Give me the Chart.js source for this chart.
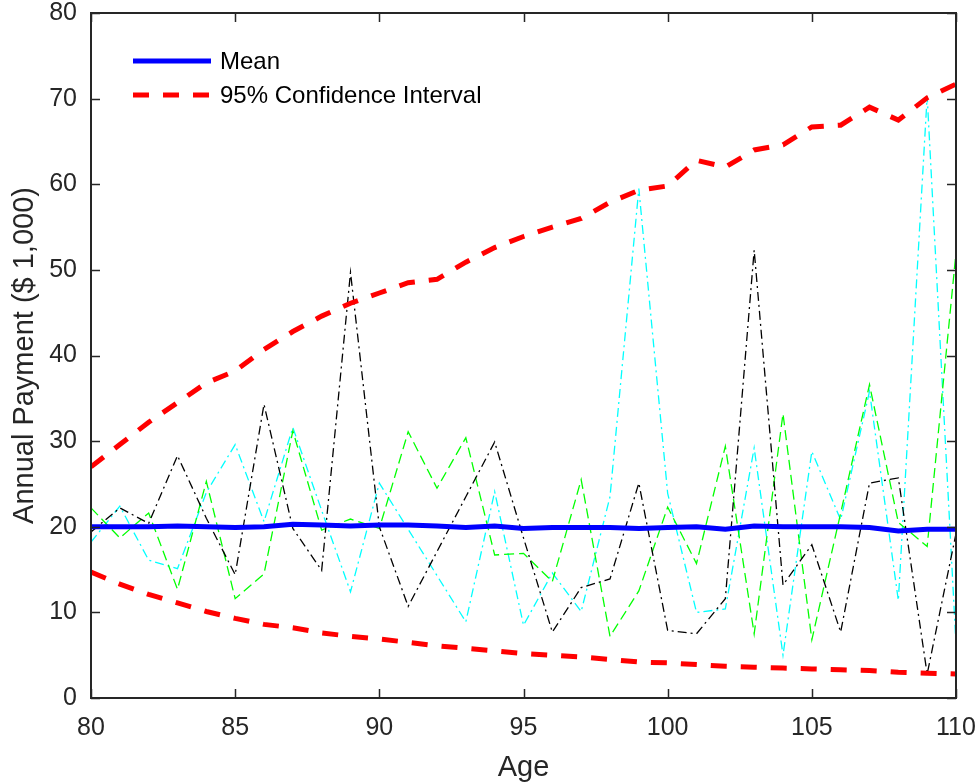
<!DOCTYPE html>
<html>
<head>
<meta charset="utf-8">
<script src="https://cdn.jsdelivr.net/npm/chart.js@4.4.1/dist/chart.umd.min.js"></script>
<style>
  body { margin: 0; background: #fff; }
  canvas { display: block; }
</style>
</head>
<body>
<canvas id="myChart" width="979" height="782"></canvas>
<script>
const ages = [80, 81, 82, 83, 84, 85, 86, 87, 88, 89, 90, 91, 92, 93, 94, 95,
  96, 97, 98, 99, 100, 101, 102, 103, 104, 105, 106, 107, 108, 109, 110];

const meanPay = [20.0, 20.0, 20.0, 20.1, 20.0, 19.9, 20.0, 20.3, 20.2, 20.1, 20.2,
  20.2, 20.1, 19.9, 20.1, 19.8, 19.9, 19.9, 19.9, 19.8, 19.9,
  20.0, 19.7, 20.1, 20.0, 20.0, 20.0, 19.9, 19.5, 19.7, 19.7];

const upperCI = [27.0, 29.6, 32.2, 34.5, 36.8, 38.2, 40.7, 42.8, 44.6, 46.1, 47.3,
  48.5, 48.9, 50.9, 52.6, 53.9, 55.0, 56.0, 57.9, 59.3, 59.8,
  62.8, 62.0, 64.0, 64.6, 66.7, 66.9, 69.0, 67.5, 70.1, 71.7];

const lowerCI = [14.7, 13.3, 12.1, 11.1, 10.1, 9.3, 8.6, 8.2, 7.6, 7.2, 6.9,
  6.5, 6.1, 5.8, 5.5, 5.2, 5.0, 4.8, 4.5, 4.2, 4.1,
  3.9, 3.7, 3.6, 3.5, 3.4, 3.3, 3.2, 3.0, 2.9, 2.8];

// three sample paths
const pathBlack = [19.4, 22.2, 20.4, 28.3, 21.0, 14.4, 34.3, 19.8, 14.9, 49.7, 20.0,
  10.7, 17.1, 23.5, 29.9, 18.7, 7.7, 12.9, 13.9, 25.1, 7.9,
  7.5, 11.6, 52.3, 13.2, 17.9, 7.7, 25.1, 25.7, 2.8, 19.2];

const pathGreen = [22.2, 18.7, 21.6, 12.7, 25.3, 11.6, 14.5, 31.2, 19.6, 20.9, 19.8,
  31.1, 24.5, 30.4, 16.7, 16.9, 13.6, 25.5, 7.2, 12.5, 22.3,
  15.7, 29.4, 7.5, 33.2, 6.8, 21.6, 36.6, 20.5, 17.7, 52.0];

const pathCyan = [18.2, 22.4, 16.1, 15.1, 24.0, 29.6, 20.6, 31.6, 21.9, 12.4, 25.1,
  19.7, 14.3, 8.9, 24.1, 8.5, 14.6, 10.1, 23.5, 59.5, 23.9,
  10.0, 10.4, 29.2, 5.0, 28.8, 20.8, 35.8, 11.4, 70.3, 6.3];

const xTicks = [80, 85, 90, 95, 100, 105, 110];
const yTicks = [0, 10, 20, 30, 40, 50, 60, 70, 80];

const FONT = "'Liberation Sans', Arial, Helvetica, sans-serif";
const AXIS = '#262626';

function pts(vals) {
  return ages.map((a, i) => ({ x: a, y: vals[i] }));
}

// box, inward ticks and the legend in the top left corner
const frame = {
  id: 'frame',
  afterDraw(chart) {
    const { ctx, chartArea: a, scales: { x, y } } = chart;
    ctx.save();
    ctx.strokeStyle = AXIS;
    ctx.lineWidth = 1.5;
    ctx.beginPath();
    x.ticks.forEach(t => {
      const px = Math.round(x.getPixelForValue(t.value)) + 0.5;
      ctx.moveTo(px, a.bottom); ctx.lineTo(px, a.bottom - 9);
      ctx.moveTo(px, a.top); ctx.lineTo(px, a.top + 9);
    });
    y.ticks.forEach(t => {
      const py = Math.round(y.getPixelForValue(t.value)) + 0.5;
      ctx.moveTo(a.left, py); ctx.lineTo(a.left + 9, py);
      ctx.moveTo(a.right, py); ctx.lineTo(a.right - 9, py);
    });
    ctx.stroke();
    ctx.lineWidth = 2;
    ctx.strokeRect(a.left, a.top, a.right - a.left, a.bottom - a.top);

    // legend
    const items = chart.data.datasets.filter(d => d.inLegend);
    ctx.font = '24px ' + FONT;
    ctx.textBaseline = 'middle';
    ctx.fillStyle = '#000';
    items.forEach((d, i) => {
      const ly = a.top + 48 + i * 34;
      ctx.beginPath();
      ctx.strokeStyle = d.borderColor;
      ctx.lineWidth = d.borderWidth;
      ctx.setLineDash(d.borderDash || []);
      ctx.moveTo(a.left + 42, ly);
      ctx.lineTo(a.left + 120, ly);
      ctx.stroke();
      ctx.setLineDash([]);
      ctx.fillText(d.label, a.left + 129, ly + 1);
    });
    ctx.restore();
  }
};

const ctx = document.getElementById('myChart').getContext('2d');

const myChart = new Chart(ctx, {
  type: 'line',
  data: {
    datasets: [
      {
        label: 'Mean',
        inLegend: true,
        data: pts(meanPay),
        borderColor: '#0000ff',
        borderWidth: 5
      },
      {
        label: '95% Confidence Interval',
        inLegend: true,
        data: pts(upperCI),
        borderColor: '#ff0000',
        borderWidth: 5,
        borderDash: [16, 14]
      },
      {
        label: 'lower',
        data: pts(lowerCI),
        borderColor: '#ff0000',
        borderWidth: 5,
        borderDash: [16, 14]
      },
      {
        label: 'path 1',
        data: pts(pathBlack),
        borderColor: '#000000',
        borderWidth: 1.3,
        borderDash: [9, 4, 2, 4]
      },
      {
        label: 'path 2',
        data: pts(pathGreen),
        borderColor: '#00ff00',
        borderWidth: 1.3,
        borderDash: [10, 5]
      },
      {
        label: 'path 3',
        data: pts(pathCyan),
        borderColor: '#00ffff',
        borderWidth: 1.3,
        borderDash: [9, 4, 2, 4]
      }
    ]
  },
  options: {
    responsive: false,
    animation: false,
    layout: { padding: { top: 13, right: 23, left: 0, bottom: 0 } },
    elements: {
      point: { radius: 0 },
      line: { tension: 0, borderCapStyle: 'butt' }
    },
    plugins: {
      legend: { display: false },
      tooltip: { enabled: false }
    },
    scales: {
      x: {
        type: 'linear',
        min: 80,
        max: 110,
        afterBuildTicks: s => { s.ticks = xTicks.map(v => ({ value: v })); },
        afterFit: s => { s.height = 84; s.paddingLeft = 0; s.paddingRight = 0; },
        grid: { display: false, drawTicks: false },
        border: { display: false },
        ticks: {
          padding: 15,
          color: AXIS,
          font: { family: FONT, size: 25 },
          maxRotation: 0
        },
        title: {
          display: true,
          text: 'Age',
          color: AXIS,
          font: { family: FONT, size: 29, lineHeight: 1 },
          padding: { top: 0, bottom: 0 }
        }
      },
      y: {
        min: 0,
        max: 80,
        afterBuildTicks: s => { s.ticks = yTicks.map(v => ({ value: v })); },
        afterFit: s => { s.width = 91; s.paddingTop = 0; s.paddingBottom = 0; },
        grid: { display: false, drawTicks: false },
        border: { display: false },
        ticks: {
          padding: 14,
          color: AXIS,
          font: { family: FONT, size: 25 }
        },
        title: {
          display: true,
          text: 'Annual Payment ($ 1,000)',
          color: AXIS,
          font: { family: FONT, size: 29, lineHeight: 1 },
          padding: { top: 10, bottom: 0 }
        }
      }
    }
  },
  plugins: [frame]
});
</script>
</body>
</html>
